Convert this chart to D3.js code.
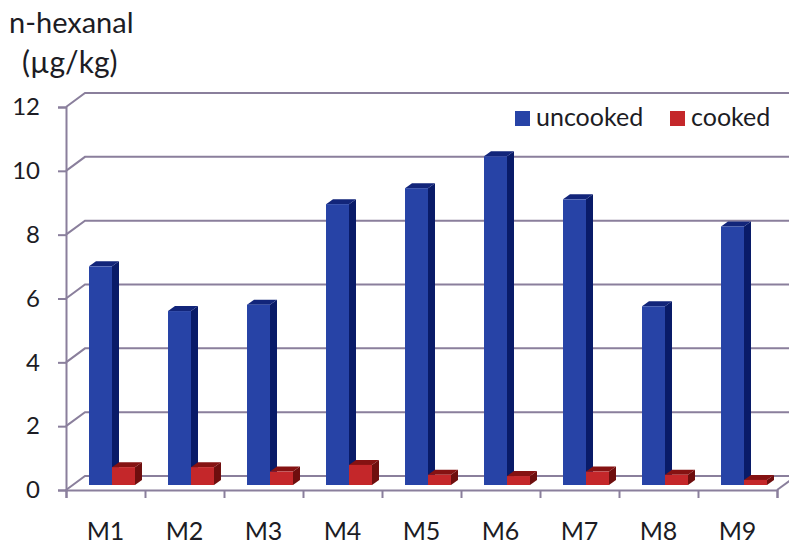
<!DOCTYPE html>
<html>
<head>
<meta charset="utf-8">
<script src="https://cdn.jsdelivr.net/npm/d3@7"></script>
<style>
html, body { margin: 0; padding: 0; background: #fff; overflow: hidden; }
svg { display: block; font-family: Lato, "Open Sans", sans-serif; }
</style>
</head>
<body>
<script>
var categories = ["M1", "M2", "M3", "M4", "M5", "M6", "M7", "M8", "M9"];
var uncooked = [6.85, 5.45, 5.65, 8.8, 9.3, 10.3, 8.95, 5.6, 8.1];
var cooked = [0.56, 0.56, 0.42, 0.63, 0.32, 0.28, 0.42, 0.32, 0.16];
var yTicks = [0, 2, 4, 6, 8, 10, 12];

var w = 789, h = 548;
var svg = d3.select("body").append("svg")
            .attr("width", w)
            .attr("height", h);

var x0 = 66, x1 = 777;
var y = d3.scaleLinear().domain([0, 12]).range([490, 107]);
var band = d3.scaleBand().domain(categories).range([x0, x1]).paddingInner(0.418).paddingOuter(0.209);
var sub = d3.scaleBand().domain(["uncooked", "cooked"]).range([0, band.bandwidth()]);
var edges = d3.scaleLinear().domain([0, 9]).range([x0, x1]);

// oblique offsets for the fake 3d: back wall, bar front face, bar depth
var wallDx = 19, wallDy = -14;
var barDx = 6.5, barDy = -5;
var sideDx = 7, sideDy = -5;

var lineCol = "#8a7f9c";
var inkCol = "#1c1c24";
var blue = { front: "#2743a6", side: "#091b68", top: "#12257a" };
var red = { front: "#c4272a", side: "#6e0e0e", top: "#851212" };

function poly(pts) { return d3.line()(pts) + "Z"; }

// gridlines run along the wall and fold forward to the axis
var grid = svg.append("g").attr("fill", "none").attr("stroke", lineCol).attr("stroke-width", 2);
grid.selectAll("path")
    .data(yTicks)
    .enter()
    .append("path")
    .attr("d", function(d) {
      return d3.line()([[x0, y(d)], [x0 + wallDx, y(d) + wallDy], [w + 2, y(d) + wallDy]]);
    });

// floor edge on the right side
grid.append("path")
    .attr("d", d3.line()([[x1, y(0)], [x1 + wallDx, y(0) + wallDy]]));

var yAxis = d3.axisLeft(y).tickValues(yTicks).tickSize(8).tickPadding(18).tickFormat(d3.format("d"));
var yG = svg.append("g").attr("transform", "translate(" + x0 + ",0)").call(yAxis);
yG.selectAll("text").attr("font-size", 24).attr("fill", inkCol).attr("font-family", "Lato, sans-serif");

var xAxis = d3.axisBottom(edges).ticks(9).tickSize(8).tickFormat("");
var xG = svg.append("g").attr("transform", "translate(0," + y(0) + ")").call(xAxis);
svg.selectAll(".domain, .tick line").attr("stroke", lineCol).attr("stroke-width", 2);

function drawBars(values, name, col) {
  var g = svg.append("g").attr("class", name);
  var bw = sub.bandwidth();
  var bars = g.selectAll("g")
              .data(values)
              .enter()
              .append("g")
              .attr("transform", function(d, i) {
                return "translate(" + (band(categories[i]) + sub(name) + barDx) + "," + barDy + ")";
              });
  bars.append("path")
      .attr("fill", col.side)
      .attr("d", function(d) {
        return poly([[bw, y(d)], [bw + sideDx, y(d) + sideDy], [bw + sideDx, y(0) + sideDy], [bw, y(0)]]);
      });
  bars.append("path")
      .attr("fill", col.top)
      .attr("d", function(d) {
        return poly([[0, y(d)], [sideDx, y(d) + sideDy], [bw + sideDx, y(d) + sideDy], [bw, y(d)]]);
      });
  bars.append("rect")
      .attr("fill", col.front)
      .attr("x", 0)
      .attr("width", bw)
      .attr("y", function(d) { return y(d); })
      .attr("height", function(d) { return y(0) - y(d); });
}
drawBars(uncooked, "uncooked", blue);
drawBars(cooked, "cooked", red);

svg.append("g").selectAll("text")
   .data(categories)
   .enter()
   .append("text")
   .attr("x", function(d) { return band(d) + band.bandwidth() / 2; })
   .attr("y", 540)
   .attr("text-anchor", "middle")
   .attr("font-size", 25)
   .attr("fill", inkCol)
   .text(function(d) { return d; });

// axis title sits above the y axis
svg.append("text").attr("x", 9).attr("y", 33).attr("font-size", 29).attr("fill", inkCol).text("n-hexanal");
svg.append("text").attr("x", 22).attr("y", 73).attr("font-size", 30).attr("fill", inkCol).text("(µg/kg)");

var legendItems = [
  { label: "uncooked", x: 515, col: blue.front },
  { label: "cooked", x: 670, col: red.front }
];
var legend = svg.selectAll(".legend")
                .data(legendItems)
                .enter()
                .append("g")
                .attr("class", "legend")
                .attr("transform", function(d) { return "translate(" + d.x + ",111)"; });
legend.append("rect")
      .attr("width", 15)
      .attr("height", 15)
      .attr("fill", function(d) { return d.col; });
legend.append("text")
      .attr("x", 21)
      .attr("y", 15)
      .attr("font-size", 25)
      .attr("fill", inkCol)
      .text(function(d) { return d.label; });
</script>
</body>
</html>
